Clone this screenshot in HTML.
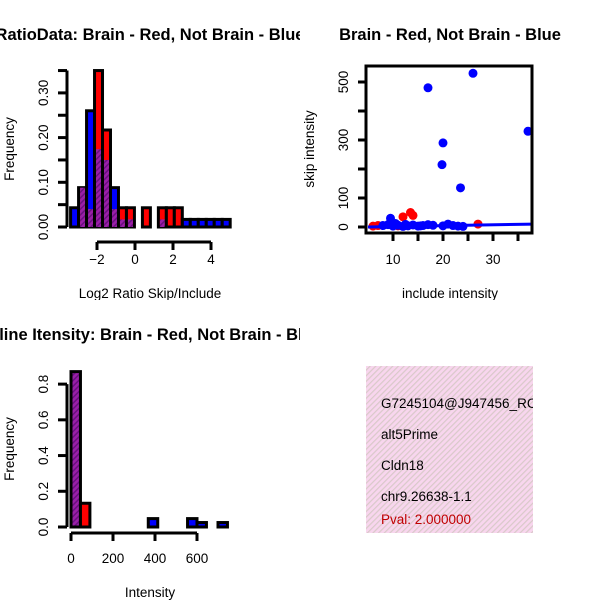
<!DOCTYPE html>
<html><head><meta charset="utf-8">
<style>
body{margin:0;background:#fff;}
svg{display:block;font-family:"Liberation Sans",sans-serif;}
</style></head>
<body>
<svg id="s" width="600" height="600" viewBox="0 0 600 600" xmlns="http://www.w3.org/2000/svg">
<defs>
<pattern id="hatch" width="4" height="4" patternUnits="userSpaceOnUse" patternTransform="rotate(45)">
<rect width="4" height="4" fill="#9a1fa8"/><rect width="1.5" height="4" fill="#6a1080"/>
</pattern>
<pattern id="pink" width="4" height="4" patternUnits="userSpaceOnUse" patternTransform="rotate(45)">
<rect width="4" height="4" fill="#f8d6ee"/><rect width="1.2" height="4" fill="#d9c9c9"/>
</pattern>
<clipPath id="c1"><rect x="0" y="0" width="300" height="300"/></clipPath>
<clipPath id="c2"><rect x="300" y="0" width="300" height="300"/></clipPath>
<clipPath id="c3"><rect x="0" y="300" width="300" height="300"/></clipPath>
<clipPath id="c4"><rect x="366" y="366" width="167" height="167"/></clipPath>
</defs>
<g id="p1" clip-path="url(#c1)"></g>
<g id="p2" clip-path="url(#c2)"></g>
<g id="p3" clip-path="url(#c3)"></g>
<g id="p4">
<rect x="366" y="366" width="167" height="167" fill="url(#pink)"/>
<g clip-path="url(#c4)" font-size="13.5">
<text x="381" y="408">G7245104@J947456_RC</text>
<text x="381" y="439">alt5Prime</text>
<text x="381" y="470">Cldn18</text>
<text x="381" y="501">chr9.26638-1.1</text>
<text x="381" y="524" fill="#c00000">Pval: 2.000000</text>
</g>
</g>
</svg>
<script>
// Histogram 1 data
const h1Start = -3.39;
const h1Width = 0.42;
const h1Blue = [0.043,0.088,0.26,0.174,0.15,0.088,0.017,0.017,0,0,0,0.017,0,0,0.017,0.017,0.017,0.017,0.017,0.017];
const h1Red  = [0,0.088,0.04,0.35,0.217,0.04,0.043,0.043,0,0.043,0,0.043,0.043,0.043,0,0,0,0,0,0];
const h1YTicks = ["0.00","0.05","0.10","0.15","0.20","0.25","0.30","0.35"];
const h1YLabelled = ["0.00","0.10","0.20","0.30"];
const h1XTicks = [-2,0,2,4];
// Scatter data
const scBlueX = [17,26,37,20,19.8,23.5,9.5,8,9,10,11,12,13,14,15,16,17,18,20,21,22,23,24,10.5,12.5,15.5];
const scBlueY = [480,530,330,290,215,135,30,5,8,3,6,2,4,7,3,5,8,6,4,10,5,3,2,12,9,4];
const scRedX = [12,13.5,14,6,7,11,27];
const scRedY = [35,50,40,3,5,4,10];
const scLineX = [5,38];
const scLineY = [0,10];
const scXTicks = [10,15,20,25,30,35];
const scXLabelled = [10,20,30];
const scYTicks = [0,100,200,300,400,500];
const scYLabelled = [0,100,300,500];
// Histogram 3 data
const h3Left = [0,45,368,555,600,700];
const h3Width = 45;
const h3Blue = [0.87,0,0.047,0.047,0.025,0.025];
const h3Red  = [0.87,0.133,0,0,0,0];
const h3YTicks = [0,0.2,0.4,0.6,0.8];
const h3YLabels = ["0.0","0.2","0.4","0.6","0.8"];
const h3XTicks = [0,200,400,600];

const FS=13.5, TFS=16.5;
const NS="http://www.w3.org/2000/svg";
function mk(parent,tag,attrs,txt){const e=document.createElementNS(NS,tag);for(const k in attrs)e.setAttribute(k,attrs[k]);if(txt!==undefined)e.textContent=txt;parent.appendChild(e);return e;}

// ---- Panel 1
(function(){
const g=document.getElementById('p1');
const x=v=>97+(v+2)*19;
const y=v=>227-v*447;
let t0=mk(g,'text',{x:150,y:40,'text-anchor':'middle','font-size':TFS,'font-weight':'bold'},'RatioData: Brain - Red, Not Brain - Blue');

for(let i=0;i<h1Blue.length;i++){
  const b=h1Blue[i],r=h1Red[i],m=Math.max(b,r),mn=Math.min(b,r);
  if(m<=0)continue;
  const x0=x(h1Start+i*h1Width),x1=x(h1Start+(i+1)*h1Width);
  const col=b>r?'#0000ff':'#ff0000';
  let e=mk(g,'rect',{x:x0,y:y(m),width:x1-x0,height:y(0)-y(m),fill:col,stroke:'#000','stroke-width':3});
  
  
  if(mn>0){e=mk(g,'rect',{x:x0+1.5,y:y(mn),width:x1-x0-3,height:y(0)-y(mn),fill:'url(#hatch)'});
  
  }
}
mk(g,'line',{x1:67,y1:y(0),x2:67,y2:y(0.35),stroke:'#000','stroke-width':3});
h1YTicks.forEach(t=>{const v=+t;mk(g,'line',{x1:58,y1:y(v),x2:67,y2:y(v),stroke:'#000','stroke-width':3});
 if(h1YLabelled.includes(t)){const e=mk(g,'text',{x:0,y:0,transform:`translate(48,${y(v)}) rotate(-90)`,'text-anchor':'middle','font-size':FS},t);}});
mk(g,'line',{x1:x(-2),y1:242,x2:x(4),y2:242,stroke:'#000','stroke-width':3});
h1XTicks.forEach(v=>{mk(g,'line',{x1:x(v),y1:242,x2:x(v),y2:250,stroke:'#000','stroke-width':3});
 const e=mk(g,'text',{x:x(v),y:264,'text-anchor':'middle','font-size':FS},v<0?'\u2212'+(-v):String(v));});
let e=mk(g,'text',{x:150,y:298,'text-anchor':'middle','font-size':FS},'Log2 Ratio Skip/Include');
e=mk(g,'text',{x:0,y:0,transform:'translate(14,149) rotate(-90)','text-anchor':'middle','font-size':FS},'Frequency');
})();

// ---- Panel 2
(function(){
const g=document.getElementById('p2');
const x=v=>393+(v-10)*5;
const y=v=>227-v*0.29;
let e=mk(g,'text',{x:450,y:40,'text-anchor':'middle','font-size':TFS,'font-weight':'bold'},'Brain - Red, Not Brain - Blue');
scRedX.forEach((v,i)=>{const c=mk(g,'circle',{cx:x(v),cy:y(scRedY[i]),r:4.5,fill:'#ff0000'});});
scBlueX.forEach((v,i)=>{const c=mk(g,'circle',{cx:x(v),cy:y(scBlueY[i]),r:4.5,fill:'#0000ff'});});
e=mk(g,'line',{x1:x(scLineX[0]),y1:y(scLineY[0]),x2:x(scLineX[1]),y2:y(scLineY[1]),stroke:'#0000ff','stroke-width':3});
mk(g,'rect',{x:366,y:66,width:166,height:167,fill:'none',stroke:'#000','stroke-width':3});
scYTicks.forEach(v=>{mk(g,'line',{x1:358,y1:y(v),x2:366,y2:y(v),stroke:'#000','stroke-width':3});
 if(scYLabelled.includes(v)){const t=mk(g,'text',{x:0,y:0,transform:`translate(348,${y(v)}) rotate(-90)`,'text-anchor':'middle','font-size':FS},String(v));}});
scXTicks.forEach(v=>{mk(g,'line',{x1:x(v),y1:233,x2:x(v),y2:241,stroke:'#000','stroke-width':3});
 if(scXLabelled.includes(v)){const t=mk(g,'text',{x:x(v),y:264,'text-anchor':'middle','font-size':FS},String(v));}});
e=mk(g,'text',{x:450,y:298,'text-anchor':'middle','font-size':FS},'include intensity');
e=mk(g,'text',{x:0,y:0,transform:'translate(314,149) rotate(-90)','text-anchor':'middle','font-size':FS},'skip intensity');
})();

// ---- Panel 3
(function(){
const g=document.getElementById('p3');
const x=v=>71+v*0.21;
const y=v=>527-v*178.6;
let e=mk(g,'text',{x:150,y:340,'text-anchor':'middle','font-size':TFS,'font-weight':'bold'},'Spline Itensity: Brain - Red, Not Brain - Blue');
h3Left.forEach((l,i)=>{const b=h3Blue[i],r=h3Red[i],m=Math.max(b,r);
 const x0=x(l),x1=x(l+h3Width);
 let fill=(b>0&&r>0)?'url(#hatch)':(b>r?'#0000ff':'#ff0000');
 const rr=mk(g,'rect',{x:x0,y:y(m),width:x1-x0,height:y(0)-y(m),fill:fill,stroke:'#000','stroke-width':3});
 
 });
mk(g,'line',{x1:67,y1:y(0),x2:67,y2:y(0.8),stroke:'#000','stroke-width':3});
h3YTicks.forEach((v,i)=>{mk(g,'line',{x1:58,y1:y(v),x2:67,y2:y(v),stroke:'#000','stroke-width':3});
 const t=mk(g,'text',{x:0,y:0,transform:`translate(48,${y(v)}) rotate(-90)`,'text-anchor':'middle','font-size':FS},h3YLabels[i]);});
mk(g,'line',{x1:x(0),y1:533,x2:x(600),y2:533,stroke:'#000','stroke-width':3});
h3XTicks.forEach(v=>{mk(g,'line',{x1:x(v),y1:533,x2:x(v),y2:541,stroke:'#000','stroke-width':3});
 const t=mk(g,'text',{x:x(v),y:563,'text-anchor':'middle','font-size':FS},String(v));});
e=mk(g,'text',{x:150,y:597,'text-anchor':'middle','font-size':FS},'Intensity');
e=mk(g,'text',{x:0,y:0,transform:'translate(14,449) rotate(-90)','text-anchor':'middle','font-size':FS},'Frequency');
})();
</script>
</body></html>
